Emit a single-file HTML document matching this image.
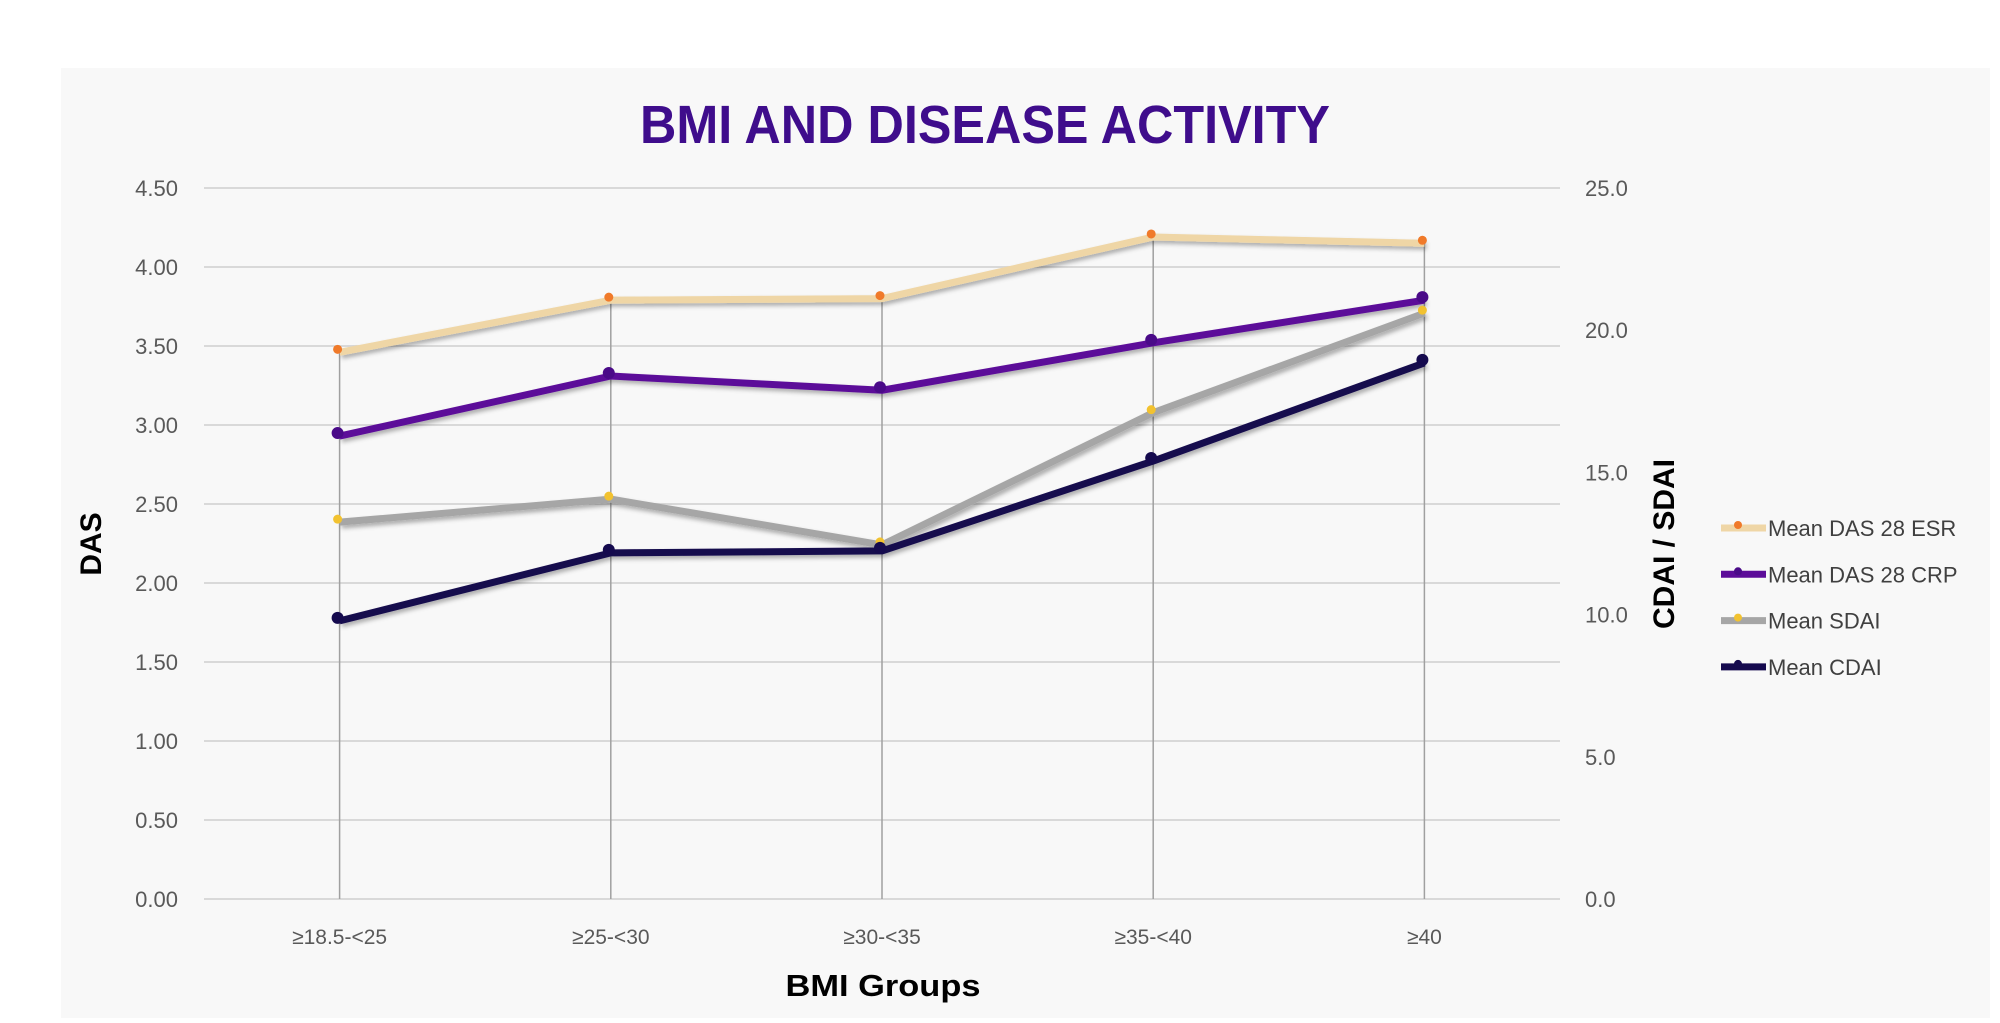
<!DOCTYPE html>
<html><head><meta charset="utf-8"><style>
html,body{margin:0;padding:0;background:#fff;}
body{width:2000px;height:1018px;overflow:hidden;font-family:"Liberation Sans",sans-serif;}
</style></head><body>
<svg id="chart" width="2000" height="1018" xmlns="http://www.w3.org/2000/svg">
<defs><filter id="sh" x="-5%" y="-20%" width="110%" height="140%"><feDropShadow dx="2" dy="3" stdDeviation="2" flood-color="#000" flood-opacity="0.3"/></filter></defs>
<rect x="61" y="68" width="1929" height="950" fill="#f8f8f8"/>
<text x="985" y="143" text-anchor="middle" font-size="54" font-weight="bold" fill="#3f0d8c" font-family="Liberation Sans, sans-serif" textLength="690" lengthAdjust="spacingAndGlyphs">BMI AND DISEASE ACTIVITY</text>
<text transform="translate(101,544) rotate(-90)" text-anchor="middle" font-size="30" font-weight="bold" fill="#000">DAS</text>
<text transform="translate(1674,544) rotate(-90)" text-anchor="middle" font-size="30" font-weight="bold" fill="#000">CDAI / SDAI</text>
<text x="883" y="996" text-anchor="middle" font-size="31" font-weight="bold" fill="#000" textLength="195" lengthAdjust="spacingAndGlyphs">BMI Groups</text>
<g id="grid"></g><g id="drops"></g><g id="series"></g><g id="axes"></g><g id="legend"></g>
</svg>
<script>
const categories = ["≥18.5-<25","≥25-<30","≥30-<35","≥35-<40","≥40"];
const leftTicks = ["0.00","0.50","1.00","1.50","2.00","2.50","3.00","3.50","4.00","4.50"];
const rightTicks = ["0.0","5.0","10.0","15.0","20.0","25.0"];
const esr = [3.46, 3.79, 3.80, 4.19, 4.15];
const crp = [2.93, 3.31, 3.22, 3.52, 3.79];
const sdai = [13.25, 14.06, 12.45, 17.1, 20.6];
const cdai = [9.78, 12.17, 12.24, 15.4, 18.85];

const NS="http://www.w3.org/2000/svg";
const X0=204, X1=1560, Y0=899, Y1=188;
const xs=i=>X0+(X1-X0)/categories.length*(i+0.5);
const yL=v=>Y0-(v/4.5)*(Y0-Y1);
const yR=v=>Y0-(v/25)*(Y0-Y1);
function mk(tag,attrs,parent){const e=document.createElementNS(NS,tag);for(const k in attrs)e.setAttribute(k,attrs[k]);document.getElementById(parent).appendChild(e);return e;}

leftTicks.forEach(t=>{const v=parseFloat(t);
 const g=mk('line',{x1:X0,x2:X1,y1:yL(v),y2:yL(v),stroke:'#d9d9d9','stroke-width':2},'grid');
 
 
 const l=mk('text',{x:178,y:yL(v)+8,'text-anchor':'end','font-size':22,fill:'#595959'},'axes');l.textContent=t;
 
 
});
rightTicks.forEach(t=>{const v=parseFloat(t);
 const l=mk('text',{x:1585,y:yR(v)+8,'text-anchor':'start','font-size':22,fill:'#595959'},'axes');l.textContent=t;
 
 
});
categories.forEach((c,i)=>{
 const l=mk('text',{x:xs(i),y:944,'text-anchor':'middle','font-size':21,fill:'#595959'},'axes');l.textContent=c;
 
 
 const top=Math.min(yL(esr[i]),yL(crp[i]),yR(sdai[i]),yR(cdai[i]));
 const d=mk('line',{x1:xs(i),x2:xs(i),y1:top,y2:Y0,stroke:'#a0a0a0','stroke-width':1.5},'drops');
 
 
});
const series=[
 {name:'Mean DAS 28 ESR',vals:esr,y:yL,color:'#efd6a6',mark:'#f07a2a',r:4.5,id:'esr'},
 {name:'Mean DAS 28 CRP',vals:crp,y:yL,color:'#5c0c99',mark:'#4a0a88',r:6,id:'crp'},
 {name:'Mean SDAI',vals:sdai,y:yR,color:'#a6a6a6',mark:'#f2c230',r:4.5,id:'sdai'},
 {name:'Mean CDAI',vals:cdai,y:yR,color:'#150a4e',mark:'#150a4e',r:6,id:'cdai'}];
series.forEach((s,k)=>{
 const pts=s.vals.map((v,i)=>xs(i)+','+s.y(v)).join(' ');
 const p=mk('polyline',{points:pts,fill:'none',stroke:s.color,'stroke-width':7,'stroke-linejoin':'round',filter:'url(#sh)'},'series');
 
 
 s.vals.forEach((v,i)=>{
  const c=mk('circle',{cx:xs(i)-2,cy:s.y(v)-3,r:s.r,fill:s.mark},'series');
  
  
 });
 const ly=528+k*46.3;
 const ll=mk('line',{x1:1721,x2:1766,y1:ly,y2:ly,stroke:s.color,'stroke-width':7},'legend');
 
 
 const lc=mk('circle',{cx:1738,cy:ly-3,r:4,fill:s.mark},'legend');
 
 
 const lt=mk('text',{x:1768,y:ly+8,'font-size':22,fill:'#404040'},'legend');lt.textContent=s.name;
 
 
});
</script>
</body></html>
